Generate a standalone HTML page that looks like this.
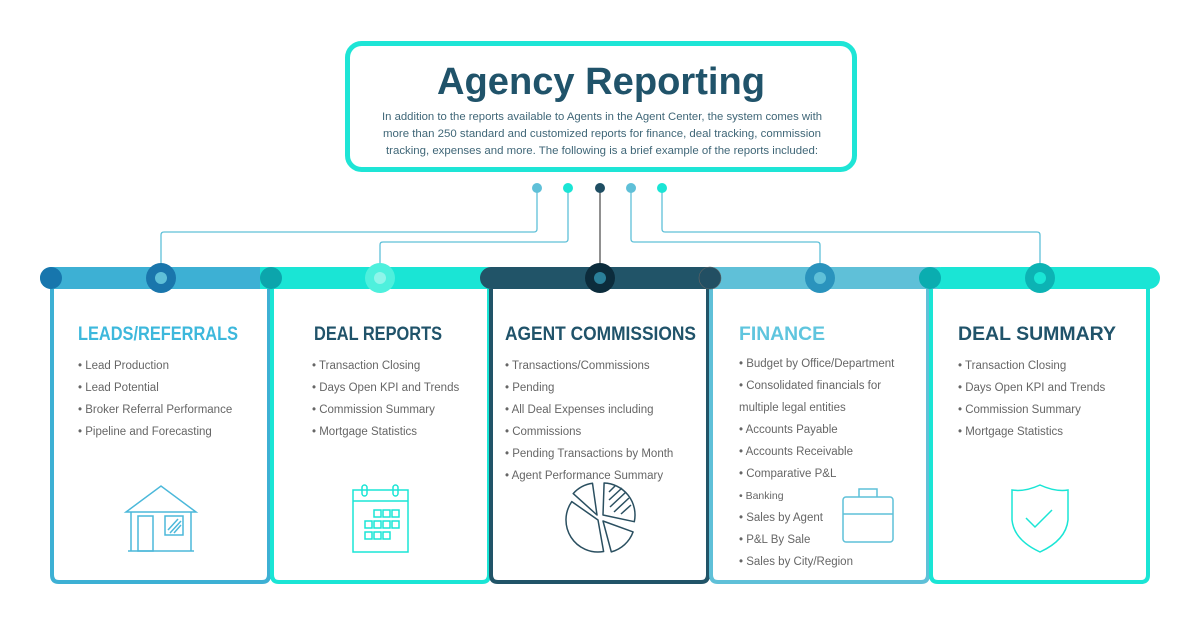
<!DOCTYPE html>
<html><head><meta charset="utf-8"><style>
body{margin:0;background:#fff;width:1200px;height:629px;overflow:hidden;font-family:"Liberation Sans",sans-serif}
svg text{font-family:"Liberation Sans",sans-serif}
</style></head><body>
<svg width="1200" height="629" viewBox="0 0 1200 629" xmlns="http://www.w3.org/2000/svg">
<rect x="347.5" y="43.5" width="507" height="126" rx="14" fill="#fff" stroke="#1ee5d6" stroke-width="5"/>
<text x="601" y="94" text-anchor="middle" font-size="38" font-weight="bold" fill="#20536a" textLength="328" lengthAdjust="spacingAndGlyphs">Agency Reporting</text>
<g font-size="11.2" fill="#3f6677" text-anchor="middle">
<text x="602" y="120" textLength="440" lengthAdjust="spacingAndGlyphs">In addition to the reports available to Agents in the Agent Center, the system comes with</text>
<text x="602" y="137" textLength="438" lengthAdjust="spacingAndGlyphs">more than 250 standard and customized reports for finance, deal tracking, commission</text>
<text x="602" y="154" textLength="432" lengthAdjust="spacingAndGlyphs">tracking, expenses and more. The following is a brief example of the reports included:</text>
</g>
<g fill="none" stroke-width="1.3">
<path d="M537 188 V229 q0 3 -3 3 H164 q-3 0 -3 3 V278" stroke="#5fc0d8"/>
<path d="M568 188 V239 q0 3 -3 3 H383 q-3 0 -3 3 V278" stroke="#5fc0d8"/>
<path d="M600 188 V278" stroke="#555"/>
<path d="M631 188 V239 q0 3 3 3 H817 q3 0 3 3 V278" stroke="#5fc0d8"/>
<path d="M662 188 V229 q0 3 3 3 H1037 q3 0 3 3 V278" stroke="#5fc0d8"/>
</g>
<circle cx="537" cy="188" r="5" fill="#5fc0d8"/>
<circle cx="568" cy="188" r="5" fill="#1ae5d5"/>
<circle cx="600" cy="188" r="5" fill="#1f4e63"/>
<circle cx="631" cy="188" r="5" fill="#5fc0d8"/>
<circle cx="662" cy="188" r="5" fill="#1ae5d5"/>
<g fill="#fff" stroke-width="4">
<path d="M52 280 V575 q0 7 7 7 H262 q7 0 7 -7 V280" stroke="#3db0d4"/>
<path d="M272 280 V575 q0 7 7 7 H482 q7 0 7 -7 V280" stroke="#1ae5d5"/>
<path d="M491 280 V575 q0 7 7 7 H701 q7 0 7 -7 V280" stroke="#215468"/>
<path d="M711 280 V575 q0 7 7 7 H921 q7 0 7 -7 V280" stroke="#5fc0d8"/>
<path d="M931 280 V575 q0 7 7 7 H1141 q7 0 7 -7 V280" stroke="#1ae5d5"/>
</g>
<rect x="40" y="267" width="240" height="22" rx="11" fill="#3db0d4"/>
<rect x="260" y="267" width="240" height="22" fill="#1ae5d5"/>
<rect x="480" y="267" width="240" height="22" rx="11" fill="#215468"/>
<rect x="710" y="267" width="230" height="22" fill="#5fc0d8"/>
<rect x="930" y="267" width="230" height="22" rx="11" fill="#1ae5d5"/>
<circle cx="51" cy="278" r="11" fill="#1776ad"/>
<circle cx="271" cy="278" r="11" fill="#0ca5ac"/>
<circle cx="710" cy="278" r="11" fill="#224f63" stroke="#666" stroke-width="0.6"/>
<circle cx="930" cy="278" r="11" fill="#0aadb0"/>
<circle cx="161" cy="278" r="15" fill="#1a76ac"/><circle cx="161" cy="278" r="6" fill="#5fc0d8"/>
<circle cx="380" cy="278" r="15" fill="#4ef0dd"/><circle cx="380" cy="278" r="6" fill="#8ff5ea"/>
<circle cx="600" cy="278" r="15" fill="#0c2c3c"/><circle cx="600" cy="278" r="6" fill="#2a7f99"/>
<circle cx="820" cy="278" r="15" fill="#2a93bd"/><circle cx="820" cy="278" r="6" fill="#5fc0d8"/>
<circle cx="1040" cy="278" r="15" fill="#0cb3b4"/><circle cx="1040" cy="278" r="6" fill="#1ae5d5"/>
<g font-size="19.5" font-weight="bold" lengthAdjust="spacingAndGlyphs">
<text x="78" y="340" fill="#3db8dc" textLength="160" lengthAdjust="spacingAndGlyphs">LEADS/REFERRALS</text>
<text x="314" y="340" fill="#20536a" textLength="128" lengthAdjust="spacingAndGlyphs">DEAL REPORTS</text>
<text x="505" y="340" fill="#20536a" textLength="191" lengthAdjust="spacingAndGlyphs">AGENT COMMISSIONS</text>
<text x="739" y="340" fill="#5fc5de" textLength="86" lengthAdjust="spacingAndGlyphs">FINANCE</text>
<text x="958" y="340" fill="#20536a" textLength="158" lengthAdjust="spacingAndGlyphs">DEAL SUMMARY</text>
</g>
<g font-size="11.5" fill="#666">
<text x="78" y="369">• Lead Production</text>
<text x="78" y="391">• Lead Potential</text>
<text x="78" y="413">• Broker Referral Performance</text>
<text x="78" y="435">• Pipeline and Forecasting</text>
<text x="312" y="369">• Transaction Closing</text>
<text x="312" y="391">• Days Open KPI and Trends</text>
<text x="312" y="413">• Commission Summary</text>
<text x="312" y="435">• Mortgage Statistics</text>
<text x="505" y="369">• Transactions/Commissions</text>
<text x="505" y="391">• Pending</text>
<text x="505" y="413">• All Deal Expenses including</text>
<text x="505" y="435">• Commissions</text>
<text x="505" y="457">• Pending Transactions by Month</text>
<text x="505" y="479">• Agent Performance Summary</text>
<text x="739" y="367">• Budget by Office/Department</text>
<text x="739" y="389">• Consolidated financials for</text>
<text x="739" y="411">multiple legal entities</text>
<text x="739" y="433">• Accounts Payable</text>
<text x="739" y="455">• Accounts Receivable</text>
<text x="739" y="477">• Comparative P&amp;L</text>
<text x="739" y="499" font-size="10.5">• Banking</text>
<text x="739" y="521">• Sales by Agent</text>
<text x="739" y="543">• P&amp;L By Sale</text>
<text x="739" y="565">• Sales by City/Region</text>
<text x="958" y="369">• Transaction Closing</text>
<text x="958" y="391">• Days Open KPI and Trends</text>
<text x="958" y="413">• Commission Summary</text>
<text x="958" y="435">• Mortgage Statistics</text>
</g>
<g fill="none" stroke="#4bb8da" stroke-width="1.5">
<path d="M126 512 L161 486 L196 512 Z"/>
<path d="M131 512 V551 M191 512 V551 M128 551 H194"/>
<rect x="138" y="516" width="15" height="35"/>
<rect x="165" y="516" width="18" height="19"/>
<path d="M168 530 l10 -11 M170 533 l11 -12 M174 533 l7 -8"/>
</g>
<g fill="none" stroke="#1ae5d5" stroke-width="1.5">
<rect x="353" y="490" width="55" height="62"/>
<path d="M353 501 H408"/>
<rect x="362" y="485" width="5" height="11" rx="2.5"/><rect x="393" y="485" width="5" height="11" rx="2.5"/>
<rect x="374" y="510" width="7" height="7"/><rect x="383" y="510" width="7" height="7"/><rect x="392" y="510" width="7" height="7"/>
<rect x="365" y="521" width="7" height="7"/><rect x="374" y="521" width="7" height="7"/><rect x="383" y="521" width="7" height="7"/><rect x="392" y="521" width="7" height="7"/>
<rect x="365" y="532" width="7" height="7"/><rect x="374" y="532" width="7" height="7"/><rect x="383" y="532" width="7" height="7"/>
</g>
<g fill="none" stroke="#2a4f60" stroke-width="1.5" stroke-linejoin="round">
<path d="M603 515 L604.1 483 A32 32 0 0 1 634.3 521.7 Z"/>
<path d="M603 521 L633.1 531.9 A32 32 0 0 1 611.3 551.9 Z"/>
<path d="M598 520 L603.6 551.5 A32 32 0 0 1 571.8 501.6 Z"/>
<path d="M597 515 L573.2 493.6 A32 32 0 0 1 592.5 483.3 Z"/>
<path d="M609 492 l6 -6 M609 500 l13 -12 M610 507 l16 -15 M614 512 l15 -14 M621 514 l10 -9"/>
</g>
<g fill="none" stroke="#5fc0d8" stroke-width="1.5">
<rect x="843" y="497" width="50" height="45" rx="3"/>
<path d="M859 497 V489 H877 V497 M843 514 H893"/>
</g>
<g fill="none" stroke="#1ae5d5" stroke-width="1.5">
<path d="M1040 485 Q1025 492 1012 490 V520 Q1014 540 1040 552 Q1066 540 1068 520 V490 Q1055 492 1040 485 Z"/>
<path d="M1026 518 l9 9 l17 -17"/>
</g>
</svg>
</body></html>
